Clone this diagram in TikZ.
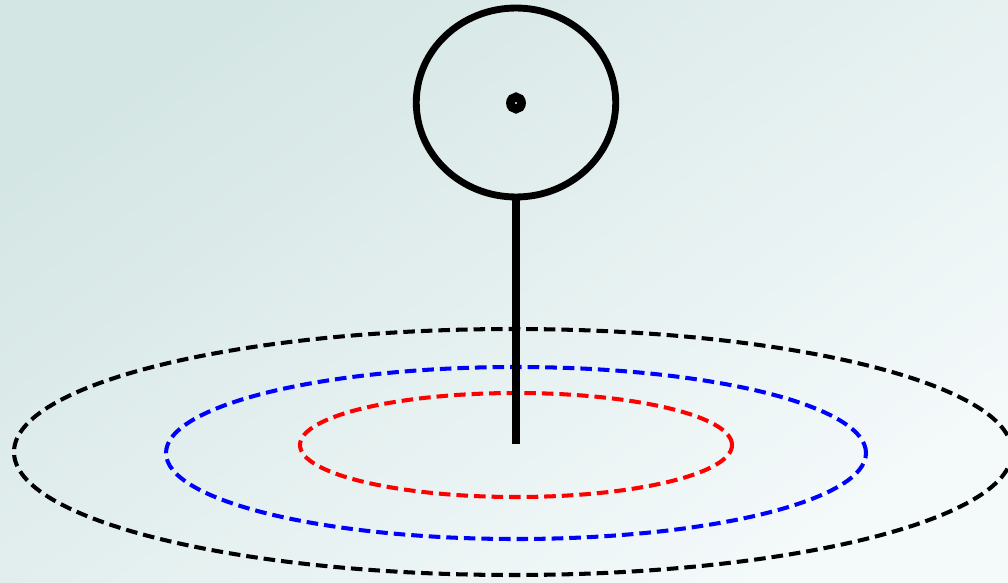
\documentclass[tikz,border=0pt]{standalone}
\usepackage{tikz}
\usetikzlibrary{positioning,calc,shapes.geometric}
\definecolor{BgTopLeft}{RGB}{212,230,228}
\definecolor{BgBotRight}{RGB}{244,249,250}
\definecolor{RingRed}{RGB}{255,0,0}
\definecolor{RingBlue}{RGB}{0,0,255}
\tikzset{
  head/.style={ellipse,draw=black,line width=3.9pt,inner sep=0pt,
    minimum width=3.99cm,minimum height=3.78cm},
  pivot/.style={ellipse,draw=black,line width=5pt,inner sep=0pt,
    minimum width=0.22cm,minimum height=0.24cm},
  stem/.style={draw=black,line width=4.3pt},
  ring/.style={line width=2.3pt,dash pattern=on 6.6pt off 3.4pt},
}
\begin{document}
\begin{tikzpicture}[x=0.02cm,y=-0.02cm]
        \shade[left color=BgTopLeft,right color=BgBotRight,shading angle=35]
          (0,0) rectangle (1008,582);
        \useasboundingbox (0,0) rectangle (1008,582);
        % rings on the ground
        \coordinate (outer) at (513,452);
        \coordinate (middle) at (516,453);
        \coordinate (inner) at (516,445);
        \draw[ring,draw=black] (outer) ellipse [x radius=499,y radius=-123];
        \draw[ring,draw=RingBlue] (middle) ellipse [x radius=350,y radius=-86];
        \draw[ring,draw=RingRed] (inner) ellipse [x radius=216,y radius=-52];
        % pin
        \node[head] (top) at (516,102.5) {};
        \node[pivot] (dot) at (516,103) {};
        \coordinate (base) at (516,444);
        \draw[stem] (top.south) -- (base);
      \end{tikzpicture}
\end{document}
